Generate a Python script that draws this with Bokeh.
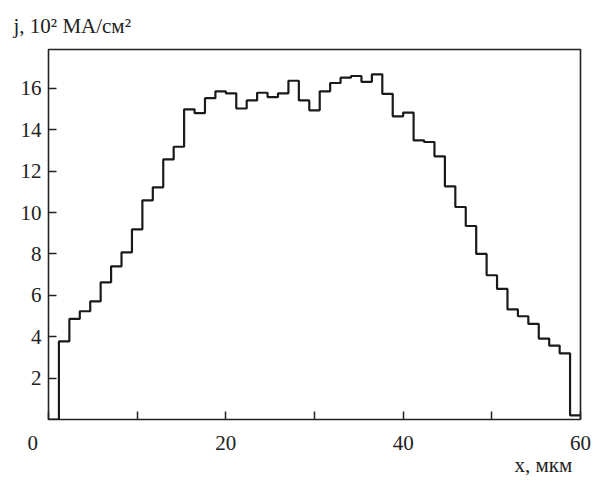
import numpy as np
from bokeh.plotting import figure
from bokeh.models import FixedTicker, Range1d, Title
from bokeh.embed import file_html
from bokeh.resources import INLINE

# ---- data ----
x_min, x_max = 0, 60
y_min, y_max = 0, 17.88
n_bins = 51
current_density = [
    0.0, 3.78, 4.86, 5.23, 5.71, 6.63, 7.40, 8.08, 9.19, 10.59,
    11.22, 12.57, 13.18, 14.99, 14.81, 15.53, 15.86, 15.76, 15.03, 15.42,
    15.79, 15.58, 15.76, 16.37, 15.42, 14.94, 15.86, 16.26, 16.52, 16.60,
    16.32, 16.68, 15.74, 14.65, 14.83, 13.49, 13.41, 12.72, 11.27, 10.27,
    9.35, 8.00, 6.97, 6.31, 5.32, 4.99, 4.62, 3.91, 3.57, 3.20,
    0.20,
]
x_ticks = [0, 10, 20, 30, 40, 50, 60]
# the origin "0" sits left of the corner: pad it with em/en spaces
x_tick_labels = {0: "0\u2003\u2002", 10: "", 20: "20", 30: "", 40: "40", 50: "", 60: "60"}
y_ticks = [2, 4, 6, 8, 10, 12, 14, 16]
y_title = "j, 10² МА/см²"
x_title = "x, мкм"

bin_edges = np.linspace(x_min, x_max, n_bins + 1)
step_y = current_density + [current_density[-1]]

FONT = "Liberation Serif"
INK = "#222222"

p = figure(width=603, height=483, output_backend="svg", toolbar_location=None,
           x_range=Range1d(x_min, x_max), y_range=Range1d(y_min, y_max),
           min_border_left=48, min_border_right=23, min_border_top=49,
           min_border_bottom=64, background_fill_color="white",
           border_fill_color="white")

p.title = Title(text=y_title, align="left", offset=-35, standoff=19,
                vertical_align="top",
                text_font=FONT, text_font_size="21px", text_font_style="normal",
                text_color=INK)
p.add_layout(Title(text=x_title, align="left", offset=466, standoff=-14,
                   text_font=FONT, text_font_size="21px", text_font_style="normal",
                   text_color=INK), "below")

p.grid.visible = False
p.outline_line_color = INK
p.outline_line_width = 1.6

for ax in (p.xaxis, p.yaxis):
    ax.axis_line_color = None
    ax.major_tick_in = 8
    ax.major_tick_out = 0
    ax.minor_tick_line_color = None
    ax.major_tick_line_color = INK
    ax.major_tick_line_width = 1.5
    ax.major_label_text_font = FONT
    ax.major_label_text_font_size = "21px"
    ax.major_label_text_color = INK

p.xaxis.ticker = FixedTicker(ticks=x_ticks)
p.xaxis.major_label_overrides = x_tick_labels
p.xaxis.major_label_standoff = 11
p.yaxis.ticker = FixedTicker(ticks=y_ticks)
p.yaxis.major_label_standoff = 7

p.step(x=bin_edges, y=step_y, mode="after", line_color="#1a1a1a", line_width=2.2)

open("out.html", "w").write(file_html(p, INLINE))
